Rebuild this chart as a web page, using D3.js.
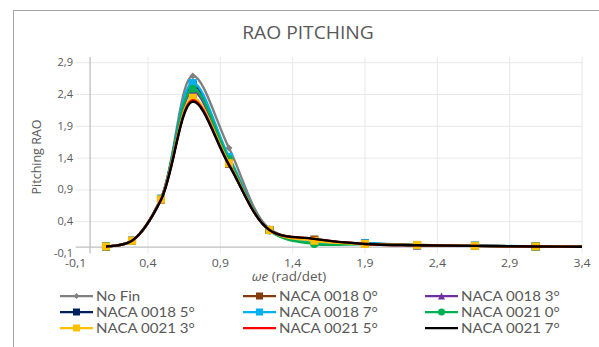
<!DOCTYPE html>
<html><head><meta charset="utf-8">
<script src="https://cdn.jsdelivr.net/npm/d3@7"></script>
<style>
html,body{margin:0;padding:0;background:#fff;}
svg{display:block;font-family:"Open Sans",sans-serif;}
</style></head>
<body><svg id="c" width="599" height="347"></svg>
<script>
// ---- data ----
const xValues = [0.11, 0.29, 0.49, 0.71, 0.96, 1.24, 1.55, 1.90, 2.26, 2.66, 3.08, 3.52];
const noFin      = [0.01, 0.10, 0.76, 2.69, 1.56, 0.29, 0.12, 0.05, 0.035, 0.02, 0.01, 0.005];
const naca0018_0 = [0.01, 0.10, 0.75, 2.33, 1.31, 0.27, 0.12, 0.05, 0.03, 0.02, 0.01, 0.005];
const naca0018_3 = [0.01, 0.10, 0.75, 2.45, 1.36, 0.27, 0.10, 0.05, 0.03, 0.02, 0.01, 0.005];
const naca0018_5 = [0.01, 0.10, 0.76, 2.55, 1.40, 0.27, 0.09, 0.06, 0.03, 0.02, 0.01, 0.005];
const naca0018_7 = [0.01, 0.10, 0.76, 2.58, 1.42, 0.27, 0.08, 0.06, 0.035, 0.025, 0.01, 0.005];
const naca0021_0 = [0.01, 0.10, 0.76, 2.49, 1.38, 0.26, 0.05, 0.05, 0.03, 0.02, 0.01, 0.005];
const naca0021_3 = [0.01, 0.10, 0.75, 2.35, 1.32, 0.27, 0.10, 0.05, 0.035, 0.02, 0.01, 0.005];
const naca0021_5 = [0.01, 0.10, 0.75, 2.31, 1.30, 0.27, 0.13, 0.05, 0.03, 0.02, 0.01, 0.005];
const naca0021_7 = [0.01, 0.10, 0.74, 2.29, 1.29, 0.27, 0.13, 0.05, 0.03, 0.02, 0.01, 0.005];
const seriesNames = ["No Fin","NACA 0018 0°","NACA 0018 3°","NACA 0018 5°","NACA 0018 7°","NACA 0021 0°","NACA 0021 3°","NACA 0021 5°","NACA 0021 7°"];
const xTicks = [-0.1, 0.4, 0.9, 1.4, 1.9, 2.4, 2.9, 3.4];
const yTicks = [-0.1, 0.4, 0.9, 1.4, 1.9, 2.4, 2.9];
const chartTitle = "RAO PITCHING";
const yTitle = "Pitching RAO";

// ---- styles ----
const seriesValues = [noFin, naca0018_0, naca0018_3, naca0018_5, naca0018_7, naca0021_0, naca0021_3, naca0021_5, naca0021_7];
const colors  = ["#808080","#843c0c","#7030a0","#002060","#00b0f0","#00b050","#ffc000","#ff0000","#000000"];
const markers = ["diamond","square","triangle","square","square","circle","square",null,null];

const svg = d3.select("#c");
const fmt = v => d3.format(".1f")(v).replace(".", ",").replace("−", "-");

// text helper with horizontal stretch (reference image is slightly widened)
function txt(parent, xp, yp, s, anchor, size, sx, family) {
  return parent.append("text")
    .attr("transform", `translate(${xp},${yp}) scale(${sx},1)`)
    .attr("text-anchor", anchor).attr("font-size", size)
    .attr("font-family", family || null)
    .attr("fill", "#595959").text(s);
}

// frame
svg.append("rect").attr("x",13.5).attr("y",10.5).attr("width",620).attr("height",400)
  .attr("fill","none").attr("stroke","#a6a6a6").attr("stroke-width",1);

const pLeft = 75.6, pRight = 582, pTop = 57, pBottom = 253.5;
const x = d3.scaleLinear().domain([-0.1, 3.4]).range([pLeft, pRight]);
const y = d3.scaleLinear().domain([-0.1, 2.9]).range([pBottom, 62.7]);

// gridlines
const g = svg.append("g");
g.selectAll(".vg").data(xTicks.filter(t => t > -0.1)).enter().append("line")
  .attr("x1", d => x(d)).attr("x2", d => x(d)).attr("y1", pTop).attr("y2", pBottom)
  .attr("stroke","#e8e8e8").attr("stroke-width",1);
g.selectAll(".hg").data(yTicks.filter(t => t > -0.1)).enter().append("line")
  .attr("x1", pLeft).attr("x2", pRight).attr("y1", d => y(d)).attr("y2", d => y(d))
  .attr("stroke","#e8e8e8").attr("stroke-width",1);

// axis lines through zero
svg.append("line").attr("x1", x(0)).attr("x2", x(0)).attr("y1", pTop).attr("y2", pBottom)
  .attr("stroke","#bfbfbf").attr("stroke-width",1.3);
svg.append("line").attr("x1", pLeft).attr("x2", pRight).attr("y1", y(0)).attr("y2", y(0))
  .attr("stroke","#bfbfbf").attr("stroke-width",1.3);

// tick labels
xTicks.forEach(t => txt(svg, x(t), 266.5, fmt(t), "middle", 11, 1.12));
yTicks.forEach(t => txt(svg, 73, y(t) + 3.5, fmt(t), "end", 10.5, 1.05));

// titles
txt(svg, 308, 39, chartTitle, "middle", 17.5, 1.1);
svg.append("text").attr("transform","translate(41,157) rotate(-90)").attr("text-anchor","middle")
  .attr("font-size", 12.5).attr("fill","#595959").text(yTitle);
const xt = txt(svg, 289, 281, "", "middle", 12, 1.12);
xt.append("tspan").attr("font-style","italic").text("ωe");
xt.append("tspan").text(" (rad/det)");

// clip
svg.append("clipPath").attr("id","pc").append("rect")
  .attr("x", pLeft).attr("y", pTop - 10).attr("width", pRight - pLeft).attr("height", pBottom - pTop + 20);

function drawMarker(sel, type, cx, cy, s, color) {
  if (!type) return;
  if (type === "square") sel.append("rect").attr("x", cx - s/2).attr("y", cy - s/2).attr("width", s).attr("height", s).attr("fill", color);
  else if (type === "circle") sel.append("circle").attr("cx", cx).attr("cy", cy).attr("r", s/2).attr("fill", color);
  else if (type === "diamond") sel.append("path").attr("d", `M${cx},${cy-s/2}L${cx+s/2},${cy}L${cx},${cy+s/2}L${cx-s/2},${cy}Z`).attr("fill", color);
  else if (type === "triangle") sel.append("path").attr("d", `M${cx},${cy-s/2}L${cx+s/2},${cy+s/2}L${cx-s/2},${cy+s/2}Z`).attr("fill", color);
}

const line = d3.line().x(d => x(d[0])).y(d => y(d[1])).curve(d3.curveCatmullRom.alpha(0.5));
const plot = svg.append("g").attr("clip-path","url(#pc)");
seriesValues.forEach((vals, i) => {
  const pts = xValues.map((xv, j) => [xv, vals[j]]);
  const sg = plot.append("g");
  sg.append("path").attr("d", line(pts)).attr("fill","none").attr("stroke", colors[i])
    .attr("stroke-width", 2.4).attr("stroke-linejoin","round");
  pts.filter(p => p[0] <= 3.4).forEach(p => {
    const s = markers[i] === "diamond" ? 7 : 8;
    drawMarker(sg, markers[i], x(p[0]), y(p[1]), s, colors[i]);
  });
});

// legend
const colX = [60, 243, 425], rowY = [296, 312, 328];
seriesNames.forEach((name, i) => {
  const cx = colX[i % 3], cy = rowY[Math.floor(i / 3)];
  const lg = svg.append("g");
  lg.append("line").attr("x1", cx).attr("x2", cx + 33).attr("y1", cy).attr("y2", cy)
    .attr("stroke", colors[i]).attr("stroke-width", 2.25);
  drawMarker(lg, markers[i], cx + 16.5, cy, markers[i] === "diamond" ? 6 : 7, colors[i]);
  txt(lg, cx + 36, cy + 4.5, name, "start", 13, 1.16, "Lato");
});
</script></body></html>
